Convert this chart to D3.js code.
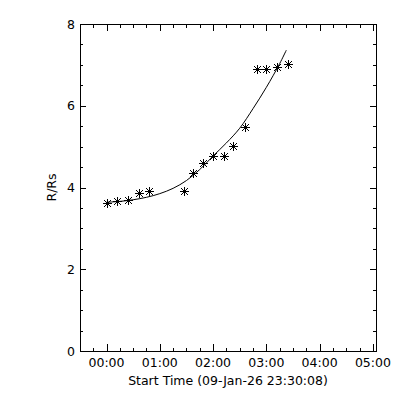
<!DOCTYPE html>
<html>
<head>
<meta charset="utf-8">
<script src="https://cdn.jsdelivr.net/npm/d3@7"></script>
<style>
  body { margin: 0; background: #fff; }
  text { font-family: "DejaVu Sans", sans-serif; font-size: 12.5px; fill: #000; }
</style>
</head>
<body>
<div id="chart"></div>
<script>
// measured points: clock time (after 00:00) and height in solar radii
const obsTimes = ["00:01", "00:12", "00:24", "00:37", "00:48", "01:27", "01:37", "01:49",
                  "02:00", "02:12", "02:23", "02:36", "02:49", "03:00", "03:12", "03:24"];
const obsHeights = [3.61, 3.68, 3.69, 3.87, 3.91, 3.92, 4.36, 4.59,
                    4.78, 4.78, 5.02, 5.49, 6.91, 6.91, 6.96, 7.02];

// fitted curve (hours after 00:00, R/Rs)
const fitHours = [0, 0.25, 0.5, 0.75, 1.0, 1.25, 1.5, 1.75, 2.0, 2.25, 2.5, 2.75, 3.0, 3.25, 3.375];
const fitHeights = [3.64, 3.66, 3.70, 3.76, 3.85, 3.98, 4.17, 4.44, 4.77, 5.09, 5.45, 5.93, 6.45, 7.03, 7.36];

const xTickLabels = ["00:00", "01:00", "02:00", "03:00", "04:00", "05:00"];
const yTicks = [0, 2, 4, 6, 8];

const startLabel = "Start Time (09-Jan-26 23:30:08)";
const yLabel = "R/Rs";

const w = 400, h = 400;
const mLeft = 80, mRight = 376, mTop = 24, mBottom = 351;

const toMin = (s) => {
    const p = s.split(":");
    return +p[0] * 60 + +p[1];
};

// x in minutes after 00:00; start time is 23:30:08
const xScale = d3.scaleLinear()
    .domain([-(29 + 52 / 60), 303.5])
    .range([mLeft, mRight]);

const yScale = d3.scaleLinear()
    .domain([0, 8])
    .range([mBottom, mTop]);

const svg = d3.select("#chart")
    .append("svg")
    .attr("width", w)
    .attr("height", h);

const majorX = xTickLabels.map(toMin);
const minorX = d3.range(-15, 301, 15).filter((m) => m % 60 !== 0);
const minorY = d3.range(0.5, 8, 0.5).filter((v) => v % 2 !== 0);

// axes, IDL style: ticks on all four sides
const axes = svg.append("g")
    .attr("stroke", "#000")
    .attr("stroke-width", 1)
    .attr("shape-rendering", "crispEdges");

axes.append("rect")
    .attr("x", mLeft + 0.5)
    .attr("y", mTop + 0.5)
    .attr("width", mRight - mLeft)
    .attr("height", mBottom - mTop)
    .attr("fill", "none");

const xTick = (m, len) => {
    const x = Math.round(xScale(m)) + 0.5;
    axes.append("line").attr("x1", x).attr("x2", x).attr("y1", mBottom).attr("y2", mBottom - len);
    axes.append("line").attr("x1", x).attr("x2", x).attr("y1", mTop).attr("y2", mTop + len);
};
majorX.forEach((m) => xTick(m, 7));
minorX.forEach((m) => xTick(m, 3.5));

const yTick = (v, len) => {
    const y = Math.round(yScale(v)) + 0.5;
    axes.append("line").attr("x1", mLeft).attr("x2", mLeft + len).attr("y1", y).attr("y2", y);
    axes.append("line").attr("x1", mRight).attr("x2", mRight - len).attr("y1", y).attr("y2", y);
};
yTicks.forEach((v) => yTick(v, 6));
minorY.forEach((v) => yTick(v, 3));

// tick labels
svg.append("g")
    .selectAll("text")
    .data(xTickLabels)
    .enter()
    .append("text")
    .attr("x", (d) => xScale(toMin(d)))
    .attr("y", mBottom + 16)
    .attr("text-anchor", "middle")
    .text((d) => d);

svg.append("g")
    .selectAll("text")
    .data(yTicks)
    .enter()
    .append("text")
    .attr("x", mLeft - 5)
    .attr("y", (d) => yScale(d) + 4.5)
    .attr("text-anchor", "end")
    .text((d) => d);

svg.append("text")
    .attr("x", (mLeft + mRight) / 2)
    .attr("y", mBottom + 34)
    .attr("text-anchor", "middle")
    .text(startLabel);

svg.append("text")
    .attr("transform", `translate(${56},${(mTop + mBottom) / 2}) rotate(-90)`)
    .attr("text-anchor", "middle")
    .text(yLabel);

// fit curve
const fitData = fitHours.map((t, i) => [t * 60, fitHeights[i]]);
const line = d3.line()
    .x((d) => xScale(d[0]))
    .y((d) => yScale(d[1]))
    .curve(d3.curveCatmullRom);

svg.append("path")
    .datum(fitData)
    .attr("d", line)
    .attr("fill", "none")
    .attr("stroke", "#000")
    .attr("stroke-width", 1);

// asterisks (psym=2)
const obs = obsTimes.map((t, i) => [toMin(t), obsHeights[i]]);
const r = 4.5, rd = 3.5;
const star = `M${-r},0H${r}M0,${-r}V${r}M${-rd},${-rd}L${rd},${rd}M${-rd},${rd}L${rd},${-rd}`;

svg.append("g")
    .selectAll("path")
    .data(obs)
    .enter()
    .append("path")
    .attr("transform", (d) => `translate(${Math.round(xScale(d[0])) + 0.5},${Math.round(yScale(d[1])) + 0.5})`)
    .attr("d", star)
    .attr("fill", "none")
    .attr("stroke", "#000")
    .attr("stroke-width", 1);
</script>
</body>
</html>
